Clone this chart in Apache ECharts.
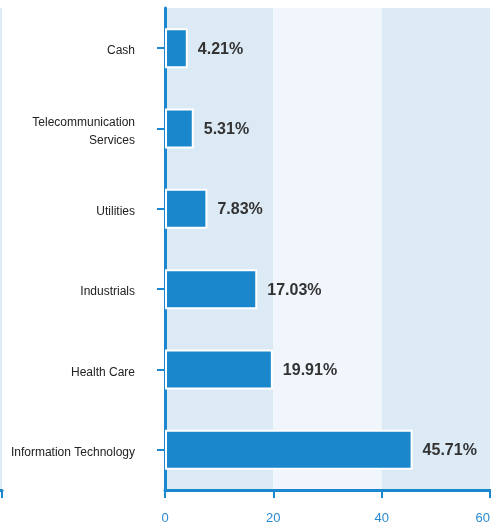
<!DOCTYPE html>
<html>
<head>
<meta charset="utf-8">
<script src="https://cdn.jsdelivr.net/npm/echarts@6/dist/echarts.min.js"></script>
<style>
html,body{margin:0;padding:0;background:#fff;}
#c{width:491px;height:527px;}
</style>
</head>
<body>
<div id="c"></div>
<script>
const categories = ["Information Technology", "Health Care", "Industrials", "Utilities", "Telecommunication\nServices", "Cash"];
const values = [45.71, 19.91, 17.03, 7.83, 5.31, 4.21];
const xTicks = [0, 20, 40, 60];

const chart = echarts.init(document.getElementById('c'), null, {renderer: 'canvas'});
const axisBlue = '#1b87cf';
const option = {
  animation: false,
  backgroundColor: '#ffffff',
  grid: [
    {left: 165, right: 1, top: 8, bottom: 37, containLabel: false, outerBoundsMode: 'none'},
    {left: -400, width: 402, top: 8, bottom: 37, containLabel: false, outerBoundsMode: 'none'}
  ],
  xAxis: [
    {
      gridIndex: 0, type: 'value', min: xTicks[0], max: xTicks[xTicks.length - 1], interval: 20,
      axisLine: {show: true, lineStyle: {color: axisBlue, width: 3}},
      axisTick: {show: true, length: 8, lineStyle: {color: axisBlue, width: 2}},
      axisLabel: {color: '#2a8ad0', fontSize: 13, fontFamily: 'Liberation Sans, Arial, sans-serif', margin: 22, alignMaxLabel: 'right'},
      splitLine: {show: false},
      splitArea: {show: true, areaStyle: {color: ['#dbeaf4', '#f0f6fb']}}
    },
    {
      gridIndex: 1, type: 'value', min: 0, max: 60, interval: 20,
      axisLine: {show: true, lineStyle: {color: axisBlue, width: 3}},
      axisTick: {show: true, length: 8, lineStyle: {color: axisBlue, width: 2}},
      axisLabel: {show: false},
      splitLine: {show: false},
      splitArea: {show: true, areaStyle: {color: ['#dbeaf4', '#f0f6fb']}}
    }
  ],
  yAxis: [
    {
      gridIndex: 0, type: 'category', data: categories,
      axisLine: {show: true, lineStyle: {color: axisBlue, width: 3}},
      axisTick: {show: true, length: 8, alignWithLabel: true, lineStyle: {color: axisBlue, width: 2}},
      axisLabel: {
        color: '#222', fontSize: 12, fontFamily: 'Liberation Sans, Arial, sans-serif', margin: 30,
        formatter: v => v.split('\n').map(s => '{a|' + s + '}').join('\n'),
        rich: {a: {color: '#222', fontSize: 12, fontFamily: 'Liberation Sans, Arial, sans-serif', lineHeight: 18, padding: [6, 0, 0, 0]}}
      }
    },
    {
      gridIndex: 1, type: 'category', data: categories, show: false
    }
  ],
  series: [
    {
      type: 'bar', xAxisIndex: 0, yAxisIndex: 0, data: values, barWidth: 40,
      itemStyle: {color: '#1a87cc', borderColor: '#ffffff', borderWidth: 2},
      label: {
        show: true, position: 'right', distance: 10, offset: [0, 1],
        formatter: p => p.value.toFixed(2) + '%',
        color: '#333', fontSize: 16, fontWeight: 'bold', fontFamily: 'Liberation Sans, Arial, sans-serif'
      }
    }
  ]
};
chart.setOption(option);
</script>
</body>
</html>
